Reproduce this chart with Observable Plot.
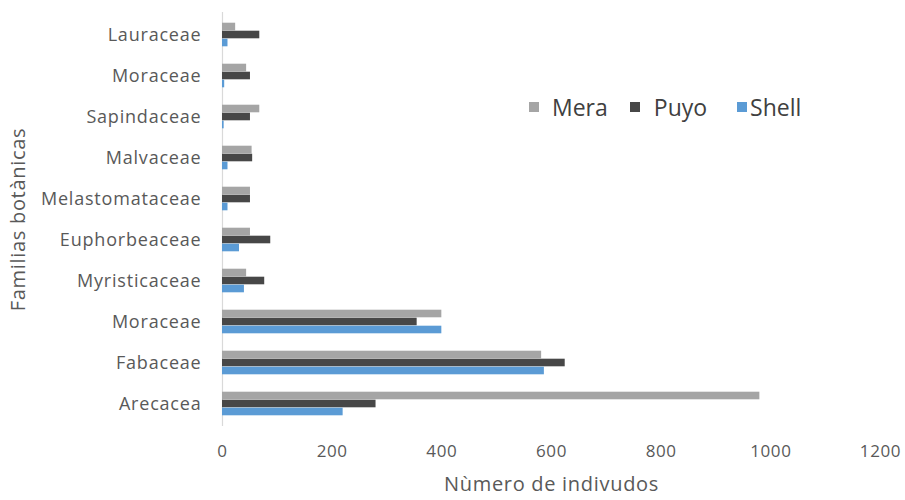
<!DOCTYPE html>
<html>
<head>
<meta charset="utf-8">
<script src="https://cdn.jsdelivr.net/npm/d3@7"></script>
<script src="https://cdn.jsdelivr.net/npm/@observablehq/plot@0.6"></script>
<style>
  html, body { margin: 0; padding: 0; background: #fff; }
  #wrap { position: relative; width: 905px; height: 500px; font-family: "Open Sans", sans-serif; }
  #wrap svg.chart text { fill: #595959; }
  [aria-label="y-axis tick label"] text { font-size: 18px; letter-spacing: 0.8px; }
  [aria-label="x-axis tick label"] text { font-size: 17px; letter-spacing: 0.6px; }
  [aria-label="y-axis label"] text, [aria-label="x-axis label"] text { font-size: 20px; letter-spacing: 0.7px; }
  #legend { position: absolute; left: 529px; top: 90px; }
  #legend .lg-swatches { font-family: "Open Sans", sans-serif; font-size: 23px; color: #404040; margin: 0 !important; }
  #legend .lg-swatch { margin-right: 0 !important; }
  #legend .lg-swatch:nth-of-type(1) { margin-right: 22px !important; }
  #legend .lg-swatch:nth-of-type(2) { margin-right: 30px !important; }
  #legend .lg-swatch:nth-of-type(1) > svg { margin-right: 13px !important; }
  #legend .lg-swatch:nth-of-type(2) > svg { margin-right: 14px !important; }
  #legend .lg-swatch:nth-of-type(3) > svg { margin-right: 3px !important; }
</style>
</head>
<body>
<div id="wrap"></div>
<script>
const categories = ["Lauraceae", "Moraceae", "Sapindaceae", "Malvaceae", "Melastomataceae", "Euphorbeaceae", "Myristicaceae", "Moraceae", "Fabaceae", "Arecacea"];
const mera  = [24, 44, 68, 54, 51, 51, 44, 400, 582, 980];
const puyo  = [68, 51, 51, 55, 51, 88, 77, 355, 625, 280];
const shell = [10, 4, 3, 10, 10, 31, 40, 400, 587, 220];
const series = ["Mera", "Puyo", "Shell"];
const colors = ["#a5a5a5", "#474747", "#5b9bd5"];
const xTicks = [0, 200, 400, 600, 800, 1000, 1200];
const xTitle = "Nùmero de indivudos";
const yTitle = "Familias botànicas";

const rows = categories.map((name, i) => ({id: i, name, Mera: mera[i], Puyo: puyo[i], Shell: shell[i]}));

const W = 905, H = 500, mt = 12, mb = 74, ml = 222, mr = 25;
const step = (H - mt - mb) / categories.length;
const barH = 8;
const groupTop = (step - barH * series.length) / 2;

const barMarks = series.map((s, k) => Plot.barX(rows, {
  x: s, y: "id", fill: colors[k],
  insetTop: groupTop + k * barH,
  insetBottom: step - groupTop - (k + 1) * barH
}));

const chart = Plot.plot({
  width: W, height: H,
  marginTop: mt, marginBottom: mb, marginLeft: ml, marginRight: mr,
  style: {fontFamily: "'Open Sans', sans-serif", background: "#fff"},
  x: {domain: [0, 1200]},
  y: {domain: rows.map(d => d.id), padding: 0},
  marks: [
    Plot.ruleX([0], {stroke: "#d9d9d9", strokeWidth: 1.2}),
    ...barMarks,
    Plot.axisX({ticks: xTicks, tickFormat: d => String(d), tickSize: 0, tickPadding: 18, label: xTitle, labelAnchor: "center", labelOffset: 64, labelArrow: "none"}),
    Plot.axisY({tickSize: 0, tickPadding: 21, tickFormat: i => categories[i], label: yTitle, labelAnchor: "center", labelOffset: 212, labelArrow: "none"})
  ]
});
chart.classList.add("chart");
const wrap = document.getElementById("wrap");
wrap.appendChild(chart);

const legend = Plot.legend({color: {type: "ordinal", domain: series, range: colors}, legend: "swatches", swatchSize: 10, className: "lg"});
const lg = document.createElement("div");
lg.id = "legend";
lg.appendChild(legend);
wrap.appendChild(lg);
</script>
</body>
</html>
